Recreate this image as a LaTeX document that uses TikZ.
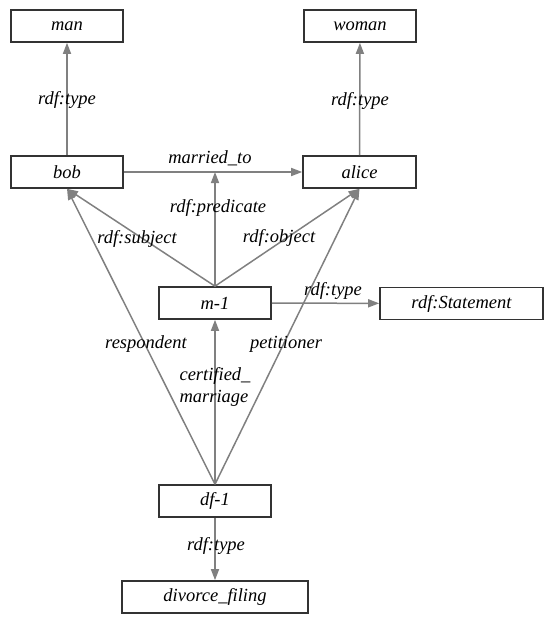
\documentclass[tikz,border=0pt]{standalone}
\usepackage{fontspec}
\setmainfont{Liberation Serif}
\usetikzlibrary{arrows.meta}
\begin{document}
\begin{tikzpicture}[x=1pt,y=-1pt,
  box/.style={draw=black!80, line width=1.6pt, fill=white, minimum height=32pt, inner sep=0pt, font=\fontsize{18.5}{20}\selectfont\itshape},
  edge/.style={draw=black!50, line width=1.5pt, -{Triangle[length=11pt,width=8pt]}},
  lbl/.style={font=\fontsize{18.5}{22}\selectfont\itshape, inner sep=1pt}]
\useasboundingbox (0,0) rectangle (551,631);
\node[box, minimum width=112pt] (man) at (67,26) {man};
\node[box, minimum width=112pt] (woman) at (360,26) {woman};
\node[box, minimum width=112pt] (bob) at (67,172) {bob};
\node[box, minimum width=113pt] (alice) at (359.5,172) {alice};
\node[box, minimum width=112pt] (m1) at (215,303) {m-1};
\node[box, minimum width=163pt] (stmt) at (461.5,303.5) {rdf:Statement};
\node[box, minimum width=112pt] (df1) at (215,501) {df-1};
\node[box, minimum width=186pt] (div) at (215,597) {divorce\_filing};
\coordinate (mt) at (215,172);
\draw[edge] (bob) -- (man);
\draw[edge] (alice) -- (woman);
\draw[edge] (bob) -- (alice);
\draw[edge] (m1.north) -- (mt);
\draw[edge] (m1.north) -- (bob.south);
\draw[edge] (m1.north) -- (alice.south);
\draw[edge] (m1) -- (stmt);
\draw[edge] (df1.north) -- (m1.south);
\draw[edge] (df1.north) -- (bob.south);
\draw[edge] (df1.north) -- (alice.south);
\draw[edge] (df1) -- (div);
\node[lbl] (l1) at (67,100) {rdf:type};
\node[lbl] (l2) at (360,101) {rdf:type};
\node[lbl] (l3) at (210,158) {married\_to};
\node[lbl] (l4) at (218,208) {rdf:predicate};
\node[lbl] (l5) at (137,239) {rdf:subject};
\node[lbl] (l6) at (279,238) {rdf:object};
\node[lbl] (l7) at (333,291) {rdf:type};
\node[lbl, align=left] (l8) at (215,387) {certified\_\\marriage};
\node[lbl] (l9) at (146,344) {respondent};
\node[lbl] (l10) at (286,344) {petitioner};
\node[lbl] (l11) at (216,546) {rdf:type};
\end{tikzpicture}
\end{document}
